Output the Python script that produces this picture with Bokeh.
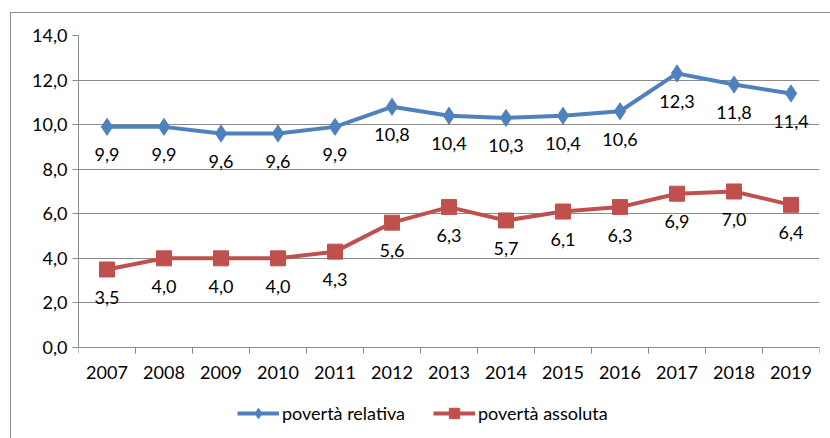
from bokeh.plotting import figure
from bokeh.models import FixedTicker, Legend, LegendItem, ColumnDataSource, Range1d
from bokeh.core.properties import value
from bokeh.embed import file_html
from bokeh.resources import INLINE

years = [2007, 2008, 2009, 2010, 2011, 2012, 2013, 2014, 2015, 2016, 2017, 2018, 2019]
relativa = [9.9, 9.9, 9.6, 9.6, 9.9, 10.8, 10.4, 10.3, 10.4, 10.6, 12.3, 11.8, 11.4]
assoluta = [3.5, 4.0, 4.0, 4.0, 4.3, 5.6, 6.3, 5.7, 6.1, 6.3, 6.9, 7.0, 6.4]
y_ticks = [0, 2, 4, 6, 8, 10, 12, 14]
series_names = ["povertà relativa", "povertà assoluta"]

FONT = "Lato"
FS = "18px"
BLUE = "#4F81BD"
RED = "#C0504D"
GRID = "#8a8a8a"

def fmt(v):
    return f"{v:.1f}".replace(".", ",")

# frame spans the plot and the legend strip below it; the x axis sits at y = 0
p = figure(width=820, height=426, output_backend="svg", toolbar_location=None,
           x_range=Range1d(years[0] - 0.5, years[-1] + 0.5), y_range=Range1d(-4.13, 14),
           min_border_left=67, min_border_top=22, min_border_right=12, min_border_bottom=0)
p.margin = (12, 0, 0, 10)
p.styles = {"border-left": "1px solid #8c8c8c", "border-top": "1px solid #8c8c8c"}
p.outline_line_color = None
p.background_fill_color = "white"
p.border_fill_color = "white"

# axes
p.xaxis.fixed_location = 0
p.xaxis.ticker = FixedTicker(ticks=years, minor_ticks=[y - 0.5 for y in years] + [years[-1] + 0.5])
p.xaxis.major_label_overrides = {y: str(y) for y in years}
p.xaxis.major_tick_line_color = None
p.xaxis.minor_tick_line_color = GRID
p.xaxis.minor_tick_out = 6
p.xaxis.minor_tick_in = 0
p.xaxis.axis_line_color = GRID
p.xaxis.major_label_standoff = 13
p.yaxis.ticker = FixedTicker(ticks=y_ticks)
p.yaxis.bounds = (0, 14)
p.yaxis.major_label_overrides = {t: fmt(t) for t in y_ticks}
p.yaxis.major_tick_line_color = GRID
p.yaxis.major_tick_out = 6
p.yaxis.major_tick_in = 0
p.yaxis.minor_tick_line_color = None
p.yaxis.axis_line_color = GRID
p.yaxis.major_label_standoff = 5
for ax in (p.xaxis, p.yaxis):
    ax.major_label_text_font = FONT
    ax.major_label_text_font_size = FS
    ax.major_label_text_color = "black"

p.xgrid.grid_line_color = None
p.ygrid.grid_line_color = GRID
p.ygrid.grid_line_width = 1

src = ColumnDataSource(dict(x=years, r=relativa, a=assoluta,
                            rl=[fmt(v) for v in relativa], al=[fmt(v) for v in assoluta]))

l1 = p.line("x", "r", source=src, line_color=BLUE, line_width=4)
m1 = p.scatter("x", "r", source=src, marker="diamond", size=17, color=BLUE)
l2 = p.line("x", "a", source=src, line_color=RED, line_width=4)
m2 = p.scatter("x", "a", source=src, marker="square", size=15, color=RED)

p.text("x", "r", text="rl", source=src, text_align="center", text_baseline="middle",
       y_offset=28, text_font=value(FONT), text_font_size=FS, text_color="black")
p.text("x", "a", text="al", source=src, text_align="center", text_baseline="middle",
       y_offset=28, text_font=value(FONT), text_font_size=FS, text_color="black")

legend = Legend(items=[LegendItem(label=series_names[0], renderers=[l1, m1]),
                       LegendItem(label=series_names[1], renderers=[l2, m2])],
                orientation="horizontal", location=(159, 13))
legend.glyph_width = 42
legend.glyph_height = 26
legend.label_standoff = 3
legend.spacing = 28
legend.padding = 0
legend.margin = 0
legend.border_line_color = None
legend.background_fill_alpha = 0
legend.label_text_font = FONT
legend.label_text_font_size = FS
legend.label_text_color = "black"
p.add_layout(legend, "center")

open("out.html", "w").write(file_html(p, INLINE))
